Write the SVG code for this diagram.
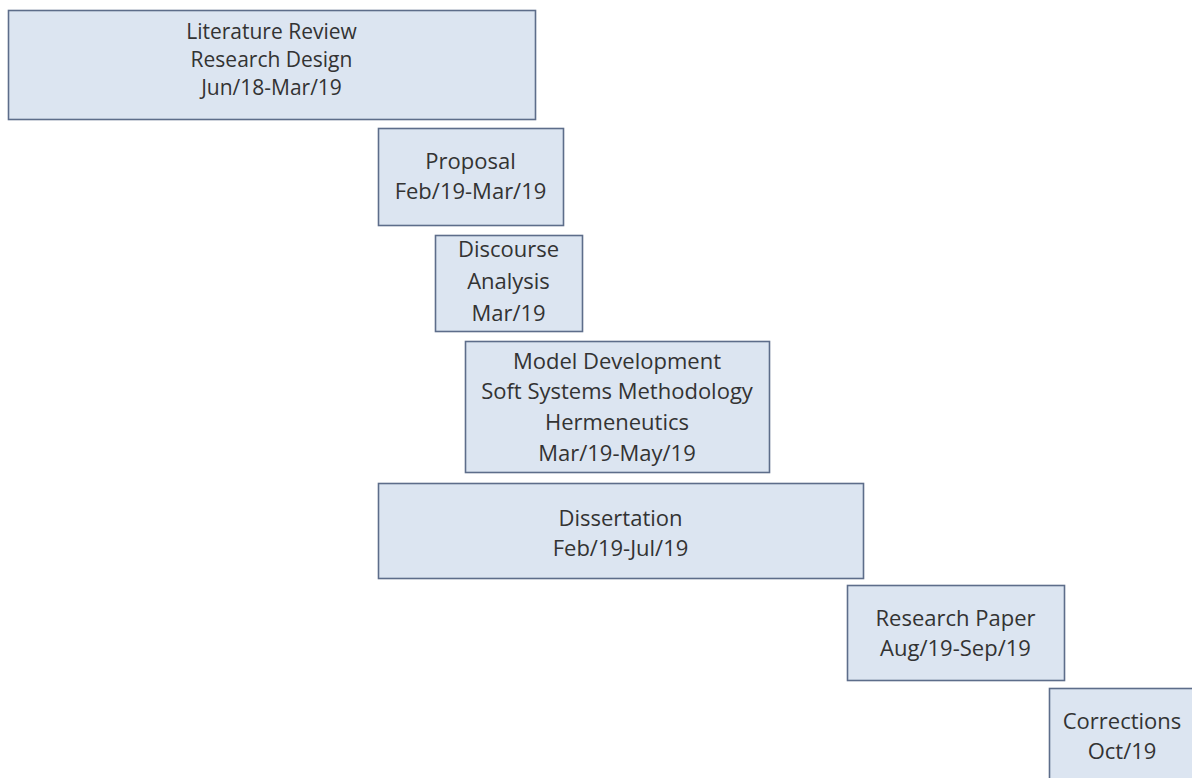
<svg xmlns="http://www.w3.org/2000/svg" width="1192" height="778" viewBox="0 0 1192 778">
  <style>
    .box { fill: #dce5f1; stroke: #5d6d8a; stroke-width: 1.6; }
    .lbl { font-family: "Open Sans", "Liberation Sans", sans-serif; font-size: 22px; fill: #333333; text-anchor: middle; }
    .tight { font-size: 21px; }
  </style>
  <rect width="1192" height="778" fill="#ffffff"/>
  <g id="connectors"></g>
  <g id="literature-review">
    <rect class="box" x="8.5" y="10.5" width="527" height="109"/>
    <text class="lbl tight" x="271.5" y="39">Literature Review</text>
    <text class="lbl tight" x="271.5" y="67">Research Design</text>
    <text class="lbl tight" x="271.5" y="95">Jun/18-Mar/19</text>
  </g>
  <g id="proposal">
    <rect class="box" x="378.5" y="128.5" width="185" height="97"/>
    <text class="lbl" x="470.5" y="169">Proposal</text>
    <text class="lbl" x="470.5" y="199">Feb/19-Mar/19</text>
  </g>
  <g id="discourse-analysis">
    <rect class="box" x="435.5" y="235.5" width="147" height="96"/>
    <text class="lbl" x="508.5" y="257">Discourse</text>
    <text class="lbl" x="508.5" y="289">Analysis</text>
    <text class="lbl" x="508.5" y="321">Mar/19</text>
  </g>
  <g id="model-development">
    <rect class="box" x="465.5" y="341.5" width="304" height="131"/>
    <text class="lbl" x="617" y="369">Model Development</text>
    <text class="lbl" x="617" y="399">Soft Systems Methodology</text>
    <text class="lbl" x="617" y="430">Hermeneutics</text>
    <text class="lbl" x="617" y="461">Mar/19-May/19</text>
  </g>
  <g id="dissertation">
    <rect class="box" x="378.5" y="483.5" width="485" height="95"/>
    <text class="lbl" x="620.5" y="526">Dissertation</text>
    <text class="lbl" x="620.5" y="556">Feb/19-Jul/19</text>
  </g>
  <g id="research-paper">
    <rect class="box" x="847.5" y="585.5" width="217" height="95"/>
    <text class="lbl" x="955.5" y="626">Research Paper</text>
    <text class="lbl" x="955.5" y="656">Aug/19-Sep/19</text>
  </g>
  <g id="corrections">
    <rect class="box" x="1049.5" y="688.5" width="160" height="110"/>
    <text class="lbl" x="1122" y="729">Corrections</text>
    <text class="lbl" x="1122" y="759">Oct/19</text>
  </g>
</svg>
